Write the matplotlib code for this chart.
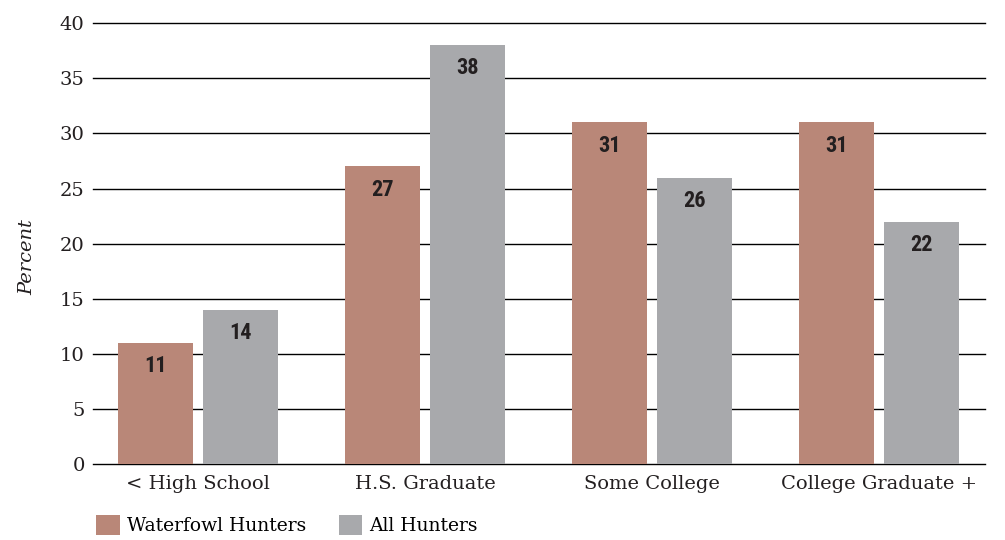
import matplotlib.pyplot as plt
import matplotlib.ticker as ticker
import numpy as np

categories = ["< High School", "H.S. Graduate", "Some College", "College Graduate +"]
waterfowl = [11, 27, 31, 31]
all_hunters = [14, 38, 26, 22]
series_names = ["Waterfowl Hunters", "All Hunters"]

BROWN = "#B98778"
GRAY = "#A8A9AC"
INK = "#231f20"
SERIF = ["DejaVu Serif"]
NUM_FONT = ["Liberation Sans Narrow", "Roboto Condensed", "DejaVu Sans"]

x = np.arange(len(categories))
w = 0.33
off = 0.187

fig = plt.figure(figsize=(10.05, 5.4), dpi=100)
ax = fig.add_axes([0.0925, 0.1407, 0.8875, 0.8163])

ax.set_ylim(0, 40)
ax.set_xlim(-0.4626, 3.467)
ax.yaxis.set_major_locator(ticker.MultipleLocator(5))
ax.grid(axis="y", color="black", linewidth=1.0)
for gl in ax.get_ygridlines():
    gl.set_clip_on(False)
ax.set_axisbelow(True)

b1 = ax.bar(x - off, waterfowl, width=w, color=BROWN, label=series_names[0], zorder=3)
b2 = ax.bar(x + off, all_hunters, width=w, color=GRAY, label=series_names[1], zorder=3)

for bars, vals in ((b1, waterfowl), (b2, all_hunters)):
    for rect, v in zip(bars, vals):
        ax.text(rect.get_x() + rect.get_width() / 2, v - 2.1, str(v),
                ha="center", va="center", fontsize=16, fontweight="bold",
                fontstretch="condensed", family=NUM_FONT, color=INK, zorder=4)

for s in ax.spines.values():
    s.set_visible(False)
ax.tick_params(axis="both", length=0, labelsize=14, colors=INK)
ax.tick_params(axis="y", pad=6)
ax.tick_params(axis="x", pad=8)
ax.set_xticks(x)
ax.set_xticklabels(categories, family=SERIF)
for lbl in ax.get_yticklabels():
    lbl.set_family(SERIF)

ax.set_ylabel("Percent", fontsize=14, style="italic", family=SERIF, color=INK)
ax.yaxis.set_label_coords(-0.064, 0.469)

fig.legend(handles=[b1, b2], labels=series_names, loc="center left",
           bbox_to_anchor=(0.096, 1 - 525 / 540), ncol=2, frameon=False,
           prop={"family": SERIF, "size": 13.5}, handlelength=1.25, handleheight=1.25,
           columnspacing=1.7, handletextpad=0.4, borderaxespad=0, borderpad=0)

fig.savefig("out.png", dpi=100)
